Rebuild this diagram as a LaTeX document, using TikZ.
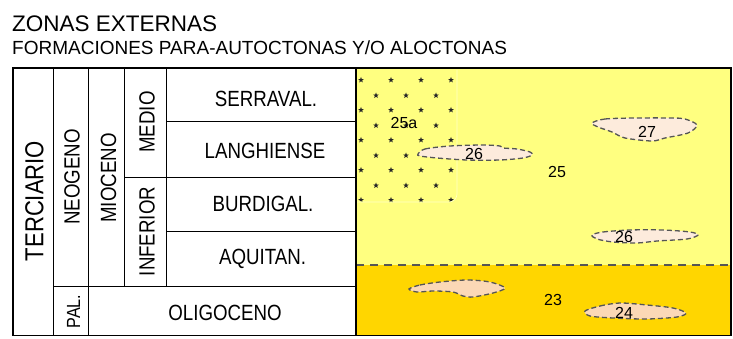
\documentclass[tikz,border=0pt]{standalone}
\usepackage{fontspec}
\setmainfont{Liberation Sans}
\newfontfamily\narrowsf[FakeStretch=0.85]{Liberation Sans}
\usepackage{tikz}
\usetikzlibrary{shapes.geometric}
\definecolor{ylight}{RGB}{255,255,128}
\definecolor{ydark}{RGB}{255,214,0}
\definecolor{lensfill}{RGB}{253,235,220}
\definecolor{lensfilldark}{RGB}{251,216,182}
\definecolor{lensline}{RGB}{85,85,85}

\begin{document}
\begin{tikzpicture}[x=1pt,y=-1pt,
    stage/.style={font=\narrowsf\fontsize{22}{24}\selectfont,inner sep=0pt},
    vstage/.style={stage,rotate=90},
    unit/.style={font=\fontsize{16}{18}\selectfont,inner sep=0pt},
    lens/.style={draw=lensline,dash pattern=on 5pt off 3pt,line width=1.3pt,fill=lensfill},
    starmark/.style={star,star points=5,star point ratio=2.4,fill=black!85,inner sep=0pt,minimum size=6pt}]
                \useasboundingbox (0,0) rectangle (733,339);
                % Headings
                \node[anchor=base west,inner sep=0pt,font=\fontsize{22.5}{26}\selectfont] (title) at (12,31.5) {ZONAS EXTERNAS};
                \node[anchor=base west,inner sep=0pt,font=\fontsize{19}{21}\selectfont] (subtitle) at (12,55) {FORMACIONES PARA-AUTOCTONAS Y/O ALOCTONAS};
                % Coloured units
                \fill[ylight] (356,68) rectangle (731,265);
                \fill[ydark] (356,265) rectangle (731,335.5);
                % Unit 25a with stars
                \begin{scope}
                    \clip[rounded corners=8pt] (356,68) -- (457,68) -- (457,202) -- (356,202) -- cycle;
                    \foreach \c in {0,...,3}
                        \foreach \r in {0,...,4}
                            \node[starmark] (sa\c\r) at (361+30*\c,80+30*\r) {};
                    \foreach \c in {0,1,2}
                        \foreach \r in {0,...,3}
                            \node[starmark] (sb\c\r) at (376+30*\c,95.5+30*\r) {};
                \end{scope}
                \draw[white!55!ylight,line width=0.6pt,rounded corners=8pt] (457,70) -- (457,202) -- (357,202);
                % Lenses
                \draw[lens] plot[smooth cycle,tension=0.5] coordinates {(418,154) (425,149) (450,146) (483,145) (500,146) (503,148) (517,149) (530,152) (532,155) (523,158) (500,160) (467,160) (437,158) (420,156)};
                \draw[lens] plot[smooth cycle,tension=0.5] coordinates {(592,123) (605,119) (635,118) (672,118) (685,119) (697,125) (688,133) (665,138) (652,141) (625,138) (612,132) (598,127)};
                \draw[lens] plot[smooth cycle,tension=0.5] coordinates {(592,235) (603,232) (630,230) (663,230) (690,232) (698,235) (687,239) (657,241) (637,243) (613,242) (597,239)};
                \draw[lens,fill=lensfilldark] plot[smooth cycle,tension=0.5] coordinates {(409,289) (420,285) (440,282) (467,280) (490,282) (505,288) (493,293) (473,297) (463,296) (453,292) (433,291) (417,292)};
                \draw[lens,fill=lensfilldark] plot[smooth cycle,tension=0.5] coordinates {(585,311) (600,306) (620,303) (647,305) (673,308) (686,313) (677,317) (647,319) (613,318) (590,316)};
                % Boundary between 25 and 23
                \draw[lensline,dash pattern=on 8pt off 6pt,line width=1.5pt] (356,265) -- (731,265);
                % Unit labels
                \node[unit] (u25a) at (404,122.5) {25a};
                \node[unit] (u26a) at (474,154) {26};
                \node[unit] (u27) at (647,132) {27};
                \node[unit] (u25) at (557,172) {25};
                \node[unit] (u26b) at (624,237) {26};
                \node[unit] (u23) at (553,300) {23};
                \node[unit] (u24) at (624,313) {24};
                % Chronostratigraphic table
                \node[vstage,font=\narrowsf\fontsize{26}{28}\selectfont] (terc) at (34.5,201) {TERCIARIO};
                \node[vstage] (neog) at (72,177) {NEOGENO};
                \node[vstage] (mioc) at (108.5,178) {MIOCENO};
                \node[vstage] (medio) at (147,122) {MEDIO};
                \node[vstage] (infer) at (147,231.5) {INFERIOR};
                \node[vstage,font=\narrowsf\fontsize{19}{21}\selectfont] (pal) at (73.5,311.5) {PAL.};
                \node[stage] (serr) at (266,99) {SERRAVAL.};
                \node[stage] (lang) at (265,150.5) {LANGHIENSE};
                \node[stage] (burd) at (263,204) {BURDIGAL.};
                \node[stage] (aqui) at (262.5,259) {AQUITAN.};
                \node[stage] (olig) at (225,312.5) {OLIGOCENO};
                % Grid
                \draw[line width=0.9pt] (53,68) -- (53,335.5) (88,68) -- (88,335.5)
                    (124,68) -- (124,286) (166,68) -- (166,286)
                    (166,121) -- (356,121) (124,177) -- (356,177)
                    (166,231) -- (356,231) (53,286) -- (356,286);
                \draw[line width=1.6pt] (13,68) rectangle (731,335.5);
                \draw[line width=1.6pt] (356,68) -- (356,335.5);
            \end{tikzpicture}
\end{document}
